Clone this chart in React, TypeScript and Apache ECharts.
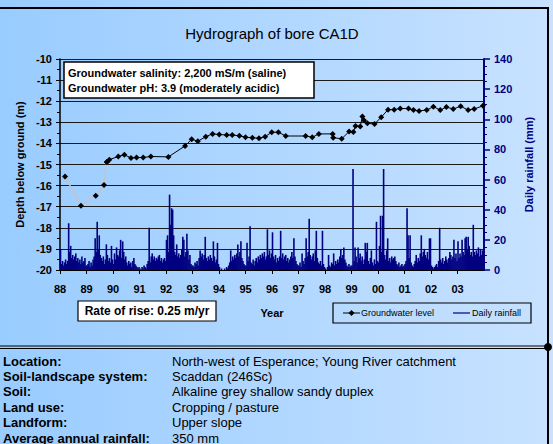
import React, { useEffect, useRef } from 'react';
import * as echarts from 'echarts';

const FONT = '"Liberation Sans", Arial, Helvetica, sans-serif';

const chartTitle = 'Hydrograph of bore CA1D';
const yearLabels = ['88', '89', '90', '91', '92', '93', '94', '95', '96', '97', '98', '99', '00', '01', '02', '03'];

// Groundwater level (depth below ground, m) vs decimal year (88 = 1988)
const gwYears = [
  88.19, 88.79, 89.35, 89.66, 89.77, 89.86, 90.2, 90.43, 90.68, 90.89, 91.14, 91.43, 92.09, 92.72, 92.97,
  93.2, 93.5, 93.76, 94.01, 94.29, 94.5, 94.77, 95.0, 95.26, 95.51, 95.74, 95.99, 96.24, 96.52, 97.27,
  97.52, 97.77, 98.29, 98.31, 98.63, 98.91, 99.07, 99.15, 99.33, 99.41, 99.47, 99.6, 99.87, 100.12,
  100.38, 100.61, 100.84, 101.15, 101.34, 101.55, 101.84, 102.09, 102.35, 102.58, 102.84, 103.12,
  103.4, 103.63, 103.96,
];
const gwDepths = [
  -15.57, -16.95, -16.48, -15.97, -14.88, -14.77, -14.62, -14.54, -14.69, -14.67, -14.67, -14.62, -14.64,
  -14.12, -13.8, -13.9, -13.68, -13.55, -13.58, -13.6, -13.6, -13.64, -13.71, -13.73, -13.76, -13.68,
  -13.47, -13.47, -13.65, -13.65, -13.71, -13.55, -13.55, -13.73, -13.78, -13.44, -13.46, -13.18, -13.2,
  -12.73, -12.9, -13.05, -13.08, -12.76, -12.4, -12.4, -12.35, -12.35, -12.42, -12.46, -12.42, -12.26,
  -12.42, -12.28, -12.37, -12.24, -12.42, -12.37, -12.22,
];
const gwEarlyCount = 5; // first readings joined by a faint grey line

// Daily rainfall (mm), read as ~26 columns per year (one per pixel column of the plot)
const rainStartYears = [88, 89, 90, 91, 92, 93, 94, 95, 96, 97, 98, 99, 100, 101, 102, 103];
const rain88 = [14, 4, 6, 3, 5, 7, 4, 6, 31, 12, 16, 8, 10, 7, 9, 11, 6, 8, 5, 7, 4, 9, 5, 6, 8, 3];
const rain89 = [3, 4, 6, 2, 5, 3, 7, 9, 21, 12, 32, 14, 23, 10, 8, 6, 9, 4, 7, 17, 10, 6, 8, 5, 16, 7];
const rain90 = [4, 11, 7, 15, 10, 9, 13, 20, 8, 19, 12, 7, 9, 5, 3, 6, 4, 5, 2, 6, 8, 4, 3, 2, 1, 2];
const rain91 = [1, 0, 2, 1, 3, 2, 1, 4, 6, 28, 5, 9, 11, 7, 9, 6, 8, 7, 9, 10, 6, 8, 5, 7, 8, 6];
const rain92 = [20, 23, 12, 50, 30, 41, 40, 23, 12, 10, 17, 9, 11, 8, 10, 14, 22, 20, 9, 12, 24, 13, 7, 10, 4, 3];
const rain93 = [3, 2, 5, 4, 6, 3, 8, 13, 9, 11, 7, 10, 22, 8, 6, 9, 7, 10, 8, 6, 19, 9, 5, 7, 18, 4];
const rain94 = [2, 0, 1, 0, 0, 1, 0, 2, 1, 3, 5, 13, 6, 9, 7, 10, 8, 11, 17, 9, 12, 19, 8, 6, 4, 3];
const rain95 = [3, 18, 6, 9, 29, 5, 4, 7, 3, 6, 8, 5, 9, 7, 10, 8, 11, 9, 12, 7, 9, 27, 10, 13, 8, 11];
const rain96 = [25, 9, 7, 10, 5, 8, 6, 9, 26, 8, 11, 7, 9, 10, 6, 8, 5, 7, 9, 12, 8, 21, 9, 6, 4, 3];
const rain97 = [3, 5, 2, 11, 6, 4, 8, 21, 9, 12, 34, 10, 7, 9, 11, 6, 13, 26, 8, 5, 4, 6, 3, 26, 4, 2];
const rain98 = [1, 0, 2, 10, 3, 2, 5, 4, 11, 3, 6, 4, 7, 5, 9, 14, 8, 10, 15, 7, 5, 3, 2, 4, 2, 3];
const rain99 = [3, 67, 6, 15, 9, 5, 15, 8, 11, 6, 9, 4, 7, 18, 12, 18, 6, 4, 8, 13, 5, 3, 7, 4, 32, 6];
const rain00 = [5, 16, 36, 12, 36, 67, 10, 7, 13, 21, 6, 8, 5, 9, 7, 8, 9, 6, 4, 3, 5, 2, 3, 4, 2, 3];
const rain01 = [4, 6, 41, 23, 8, 23, 5, 3, 2, 4, 6, 10, 5, 8, 6, 11, 23, 9, 12, 14, 10, 8, 12, 7, 21, 21];
const rain02 = [3, 2, 1, 2, 3, 4, 2, 6, 28, 7, 5, 8, 4, 6, 9, 7, 5, 8, 12, 10, 7, 9, 20, 8, 11, 6];
const rain03 = [19, 8, 11, 9, 20, 12, 10, 21, 22, 14, 22, 16, 10, 12, 9, 30, 12, 10, 13, 11, 15, 9, 14, 10, 13, 8];
const rainByYear = [rain88, rain89, rain90, rain91, rain92, rain93, rain94, rain95, rain96, rain97, rain98, rain99, rain00, rain01, rain02, rain03];

const salinityLines = ['Groundwater salinity: 2,200 mS/m (saline)', 'Groundwater pH: 3.9 (moderately acidic)'];
const rateText = 'Rate of rise: 0.25 m/yr';
const siteLabels = ['Location:', 'Soil-landscape system:', 'Soil:', 'Land use:', 'Landform:', 'Average annual rainfall:'];
const siteValues = [
  'North-west of Esperance; Young River catchment',
  'Scaddan (246Sc)',
  'Alkaline grey shallow sandy duplex',
  'Cropping / pasture',
  'Upper slope',
  '350 mm',
];

export default function App() {
  const ref = useRef<HTMLDivElement>(null);
  useEffect(() => {
    if (!ref.current) return;
    const chart = echarts.init(ref.current, undefined, { renderer: 'svg' });

    const rainData: [number, number][] = [];
    rainByYear.forEach((arr, k) => {
      const n = arr.length;
      arr.forEach((v, i) => rainData.push([rainStartYears[k] + (i + 0.5) / n, v]));
    });
    const gwAll = gwYears.map((y, i) => [y, gwDepths[i]]);
    const gwEarly = gwAll.slice(0, gwEarlyCount);
    const gwMain = gwAll.slice(gwEarlyCount - 1);

    const rowY0 = 361;
    const rowStep = 15.4;
    const siteGraphics: any[] = [];
    siteLabels.forEach((l, i) => {
      siteGraphics.push({
        type: 'text', x: 3, y: rowY0 + i * rowStep,
        style: { text: l, font: `bold 13px ${FONT}`, fill: '#000', verticalAlign: 'middle' },
      });
      siteGraphics.push({
        type: 'text', x: 172, y: rowY0 + i * rowStep,
        style: { text: siteValues[i], font: `13px ${FONT}`, fill: '#000', verticalAlign: 'middle' },
      });
    });

    const option: any = {
      animation: false,
      backgroundColor: new echarts.graphic.LinearGradient(0, 0, 1, 0, [
        { offset: 0, color: '#99CCFF' },
        { offset: 1, color: '#C8E2FF' },
      ]),
      textStyle: { fontFamily: FONT },
      title: {
        text: chartTitle,
        left: 272,
        top: 26,
        padding: 0,
        textAlign: 'center',
        textStyle: { fontFamily: FONT, fontSize: 15, fontWeight: 'normal', color: '#000' },
      },
      grid: { left: 60, right: 69, top: 59, bottom: 174, containLabel: false },
      xAxis: {
        type: 'value',
        min: 88,
        max: 104,
        interval: 1,
        name: 'Year',
        nameLocation: 'middle',
        nameGap: 37,
        nameTextStyle: { fontFamily: FONT, fontSize: 11, fontWeight: 'bold', color: '#000' },
        axisLine: { lineStyle: { color: '#000', width: 1 } },
        axisTick: { show: true, length: 4, lineStyle: { color: '#000' } },
        axisLabel: {
          showMaxLabel: false,
          margin: 13,
          fontFamily: FONT,
          fontSize: 11,
          fontWeight: 'bold',
          color: '#000',
          formatter: (v: number) => yearLabels[Math.round(v) - 88] ?? '',
        },
        splitLine: { show: false },
      },
      yAxis: [
        {
          type: 'value',
          min: -20,
          max: -10,
          interval: 1,
          position: 'left',
          name: 'Depth below ground (m)',
          nameLocation: 'middle',
          nameRotate: 90,
          nameGap: 35,
          nameTextStyle: { fontFamily: FONT, fontSize: 11, fontWeight: 'bold', color: '#000' },
          axisLine: { show: true, lineStyle: { color: '#000', width: 1.5 } },
          axisTick: { show: true, length: 4, lineStyle: { color: '#000' } },
          minorTick: { show: true, splitNumber: 2, length: 3, lineStyle: { color: '#000' } },
          axisLabel: { margin: 8, fontFamily: FONT, fontSize: 11, fontWeight: 'bold', color: '#000' },
          splitLine: { show: true, lineStyle: { color: '#1a1a1a', width: 1 } },
        },
        {
          type: 'value',
          min: 0,
          max: 140,
          interval: 20,
          position: 'right',
          name: 'Daily rainfall (mm)',
          nameLocation: 'middle',
          nameRotate: 90,
          nameGap: 36,
          nameTextStyle: { fontFamily: FONT, fontSize: 11, fontWeight: 'bold', color: '#000080' },
          axisLine: { show: true, lineStyle: { color: '#000080', width: 2 } },
          axisTick: { show: true, length: 6, lineStyle: { color: '#000080', width: 1.5 } },
          minorTick: { show: true, splitNumber: 4, length: 3, lineStyle: { color: '#000080' } },
          axisLabel: { margin: 10, fontFamily: FONT, fontSize: 11, fontWeight: 'bold', color: '#000080' },
          splitLine: { show: false },
        },
      ],
      series: [
        {
          name: 'Daily rainfall',
          type: 'bar',
          yAxisIndex: 1,
          data: rainData,
          barWidth: 1.6,
          itemStyle: { color: '#000080' },
          z: 1,
        },
        {
          name: 'Groundwater level (early)',
          type: 'line',
          yAxisIndex: 0,
          data: gwEarly,
          symbol: 'diamond',
          symbolSize: 6,
          itemStyle: { color: '#000' },
          lineStyle: { color: '#C4C4C4', width: 1.5 },
          z: 3,
        },
        {
          name: 'Groundwater level',
          type: 'line',
          yAxisIndex: 0,
          data: gwMain,
          symbol: 'diamond',
          symbolSize: 6,
          itemStyle: { color: '#000' },
          lineStyle: { color: '#000', width: 1 },
          z: 4,
        },
      ],
      graphic: [
        // outer frame
        { type: 'line', shape: { x1: 0, y1: 8, x2: 549, y2: 8 }, style: { stroke: '#000', lineWidth: 2 } },
        { type: 'line', shape: { x1: 548, y1: 8, x2: 548, y2: 444 }, style: { stroke: '#000', lineWidth: 2 } },
        { type: 'line', shape: { x1: 0, y1: 346, x2: 548, y2: 346 }, style: { stroke: '#000', lineWidth: 1 } },
        { type: 'line', shape: { x1: 0, y1: 348.5, x2: 548, y2: 348.5 }, style: { stroke: '#000', lineWidth: 1 } },
        { type: 'circle', shape: { cx: 548, cy: 347, r: 4 }, style: { fill: '#000' } },
        // salinity box
        { type: 'rect', shape: { x: 64, y: 62, width: 250, height: 36 }, style: { fill: '#fff', stroke: '#000', lineWidth: 1.5 }, z: 10 },
        { type: 'text', x: 68, y: 72.5, z: 11, style: { text: salinityLines[0], font: `bold 11px ${FONT}`, fill: '#000', verticalAlign: 'middle' } },
        { type: 'text', x: 68, y: 88, z: 11, style: { text: salinityLines[1], font: `bold 11px ${FONT}`, fill: '#000', verticalAlign: 'middle' } },
        // rate of rise box
        { type: 'rect', shape: { x: 78, y: 301, width: 138, height: 20 }, style: { fill: '#fff', stroke: '#000', lineWidth: 1.2 } },
        { type: 'text', x: 147, y: 311, style: { text: rateText, font: `bold 12px ${FONT}`, fill: '#000', align: 'center', verticalAlign: 'middle' } },
        // legend
        { type: 'rect', shape: { x: 333, y: 303, width: 198, height: 20 }, style: { fill: 'none', stroke: '#000', lineWidth: 1.2 } },
        { type: 'line', shape: { x1: 343, y1: 313, x2: 360, y2: 313 }, style: { stroke: '#000', lineWidth: 1 } },
        { type: 'polygon', shape: { points: [[351.5, 310], [354.5, 313], [351.5, 316], [348.5, 313]] }, style: { fill: '#000' } },
        { type: 'text', x: 361, y: 313, style: { text: 'Groundwater level', font: `9px ${FONT}`, fill: '#000', verticalAlign: 'middle' } },
        { type: 'line', shape: { x1: 453, y1: 313, x2: 470, y2: 313 }, style: { stroke: '#000080', lineWidth: 1.2 } },
        { type: 'text', x: 472, y: 313, style: { text: 'Daily rainfall', font: `9px ${FONT}`, fill: '#000', verticalAlign: 'middle' } },
        ...siteGraphics,
      ],
    };
    chart.setOption(option);
    return () => chart.dispose();
  }, []);
  return (
    <div
      ref={ref}
      style={{ position: 'absolute', left: 0, top: 0, width: 553, height: 444 }}
    />
  );
}
